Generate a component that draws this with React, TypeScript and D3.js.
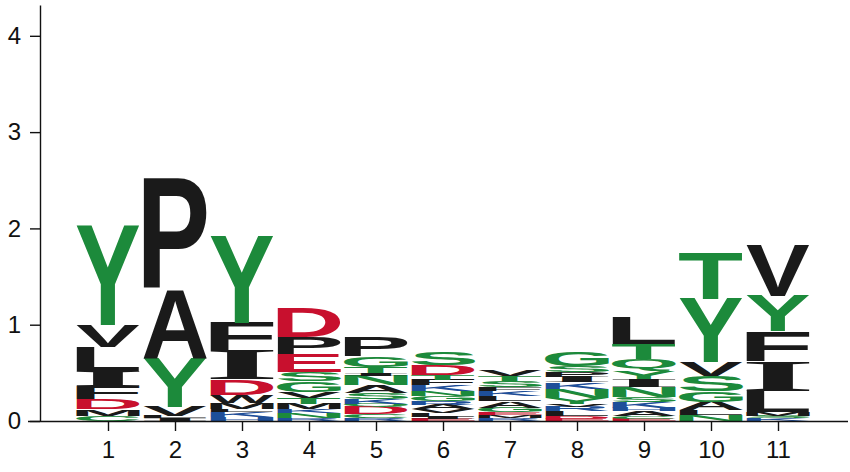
import { useEffect, useRef } from "react"
import * as d3 from "d3"

// sequence positions along the x axis
const positions = ["1", "2", "3", "4", "5", "6", "7", "8", "9", "10", "11"]

// letter heights (bits) for each position, bottom to top
const col1: [string, number][] = [["C", 0.05], ["M", 0.07], ["D", 0.11], ["F", 0.13], ["I", 0.16], ["L", 0.25], ["V", 0.23], ["Y", 1.04]]
const col2: [string, number][] = [["I", 0.03], ["L", 0.02], ["V", 0.1], ["Y", 0.5], ["A", 0.72], ["P", 1.15]]
const col3: [string, number][] = [["H", 0.04], ["K", 0.05], ["L", 0.03], ["M", 0.07], ["W", 0.08], ["D", 0.16], ["I", 0.3], ["F", 0.29], ["Y", 0.9]]
const col4: [string, number][] = [["R", 0.03], ["N", 0.05], ["K", 0.04], ["M", 0.06], ["T", 0.06], ["V", 0.06], ["G", 0.11], ["S", 0.1], ["E", 0.18], ["P", 0.18], ["D", 0.31]]
const col5: [string, number][] = [["R", 0.03], ["C", 0.04], ["D", 0.08], ["Q", 0.03], ["K", 0.05], ["S", 0.06], ["A", 0.08], ["N", 0.1], ["I", 0.03], ["T", 0.06], ["G", 0.11], ["P", 0.2]]
const col6: [string, number][] = [["E", 0.02], ["I", 0.02], ["L", 0.04], ["V", 0.04], ["A", 0.05], ["R", 0.04], ["G", 0.05], ["N", 0.05], ["K", 0.06], ["F", 0.06], ["T", 0.05], ["D", 0.1], ["S", 0.14]]
const col7: [string, number][] = [["R", 0.03], ["M", 0.03], ["E", 0.03], ["G", 0.05], ["A", 0.07], ["L", 0.05], ["K", 0.05], ["F", 0.04], ["S", 0.07], ["T", 0.05], ["V", 0.07]]
const col8: [string, number][] = [["E", 0.02], ["D", 0.03], ["L", 0.05], ["R", 0.05], ["V", 0.03], ["Y", 0.06], ["N", 0.09], ["K", 0.07], ["I", 0.06], ["P", 0.05], ["S", 0.06], ["G", 0.15]]
const col9: [string, number][] = [["E", 0.02], ["C", 0.03], ["A", 0.05], ["H", 0.04], ["K", 0.06], ["S", 0.05], ["N", 0.1], ["I", 0.09], ["Y", 0.08], ["Q", 0.12], ["T", 0.16], ["L", 0.28]]
const col10: [string, number][] = [["N", 0.06], ["L", 0.05], ["A", 0.09], ["G", 0.11], ["S", 0.16], ["V", 0.14], ["Y", 0.66], ["T", 0.49]]
const col11: [string, number][] = [["K", 0.03], ["S", 0.02], ["M", 0.04], ["L", 0.22], ["I", 0.31], ["F", 0.31], ["Y", 0.37], ["V", 0.53]]

const columns = [col1, col2, col3, col4, col5, col6, col7, col8, col9, col10, col11]

const yTicks = [0, 1, 2, 3, 4]

const polar = "STYCQNG"
const basic = "KRH"
const acidic = "DE"

function letterColor(aa: string) {
  if (polar.includes(aa)) return "#1c8a3b"
  if (basic.includes(aa)) return "#1e4f99"
  if (acidic.includes(aa)) return "#c8102e"
  return "#1a1a1a"
}

const FONT = "'Liberation Sans', Arial, Helvetica, sans-serif"
// the logo's I has bars top and bottom, so take it from a serif face
const SERIF = "'Liberation Serif', 'DejaVu Serif', serif"
const fontFor = (aa: string) => (aa === "I" ? SERIF : FONT)

export default function App() {
  const svgRef = useRef<SVGSVGElement>(null)

  useEffect(() => {
    if (!svgRef.current) return

    const width = 850
    const height = 472

    d3.select(svgRef.current).selectAll("*").remove()

    const svg = d3.select(svgRef.current).attr("width", width).attr("height", height)

    const x = d3.scaleLinear().domain([0, positions.length + 1]).range([41, 845])
    const y = d3.scaleLinear().domain([0, 4.32]).range([421, 5])
    const colW = (x(1) - x(0)) * 0.955

    // glyph ink bounds measured on a canvas
    const ctx = document.createElement("canvas").getContext("2d")!
    const metrics = new Map<string, { l: number; r: number; a: number; d: number }>()
    const measure = (ch: string) => {
      if (!metrics.has(ch)) {
        ctx.font = `bold 100px ${fontFor(ch)}`
        const m = ctx.measureText(ch)
        metrics.set(ch, {
          l: m.actualBoundingBoxLeft,
          r: m.actualBoundingBoxRight,
          a: m.actualBoundingBoxAscent,
          d: m.actualBoundingBoxDescent,
        })
      }
      return metrics.get(ch)!
    }

    // Stacked letters
    const logo = svg.append("g")
    columns.forEach((col, i) => {
      const cx = x(i + 1)
      let base = 0
      col.forEach(([aa, h]) => {
        const top = base + h
        const y0 = y(top)
        const hPx = y(base) - y(top)
        base = top
        const m = measure(aa)
        const sx = colW / (m.l + m.r)
        const sy = hPx / (m.a + m.d)
        const left = cx - colW / 2
        logo
          .append("text")
          .attr("x", 0)
          .attr("y", 0)
          .attr("font-family", fontFor(aa))
          .attr("font-weight", "bold")
          .attr("font-size", 100)
          .attr("fill", letterColor(aa))
          .attr("transform", `translate(${left + m.l * sx},${y0 + m.a * sy}) scale(${sx},${sy})`)
          .text(aa)
      })
    })

    // Y axis
    const yAxis = svg
      .append("g")
      .attr("transform", "translate(40,0)")
      .call(d3.axisLeft(y).tickValues(yTicks).tickFormat(d3.format("d")).tickSize(10).tickSizeOuter(0).tickPadding(9))
    yAxis.selectAll("text").attr("font-size", 24).attr("font-family", FONT).attr("fill", "#111")
    yAxis.selectAll("line, path").attr("stroke", "#111").attr("stroke-width", 1.4)

    // X axis
    const xAxis = svg
      .append("g")
      .attr("transform", "translate(0,421)")
      .call(
        d3
          .axisBottom(x)
          .tickValues(positions.map((_, i) => i + 1))
          .tickFormat((_, i) => positions[i])
          .tickSize(10)
          .tickSizeOuter(0)
          .tickPadding(10)
      )
    xAxis.select(".domain").attr("d", "M28,0.5H848")
    xAxis.selectAll("text").attr("font-size", 24).attr("font-family", FONT).attr("fill", "#111")
    xAxis.selectAll("line, path").attr("stroke", "#111").attr("stroke-width", 1.4)
  }, [])

  return <svg ref={svgRef} style={{ position: "absolute", left: 0, top: 0 }} />
}
